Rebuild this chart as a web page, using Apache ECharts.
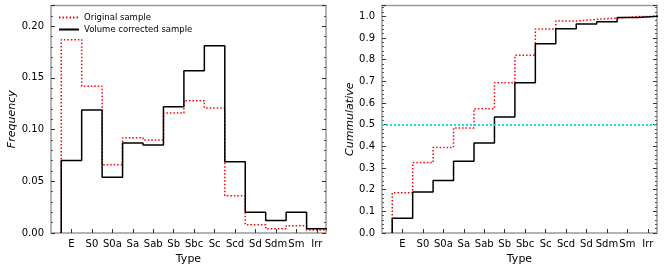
<!DOCTYPE html>
<html><head><meta charset="utf-8">
<script src="https://cdn.jsdelivr.net/npm/echarts@6/dist/echarts.min.js"></script>
<style>html,body{margin:0;padding:0;background:#fff}#c{width:664px;height:271px}</style>
</head><body><div id="c"></div>
<script>
const categories = ['E','S0','S0a','Sa','Sab','Sb','Sbc','Sc','Scd','Sd','Sdm','Sm','Irr'];
const freqOriginal = [0.187,0.142,0.066,0.092,0.090,0.116,0.128,0.121,0.036,0.008,0.004,0.007,0.003];
const freqCorrected = [0.070,0.119,0.054,0.087,0.085,0.122,0.157,0.181,0.069,0.020,0.012,0.020,0.004];
const cumOriginal = [0.186,0.325,0.395,0.485,0.574,0.694,0.820,0.942,0.978,0.986,0.992,0.999,1.0];
const cumCorrected = [0.068,0.189,0.242,0.331,0.415,0.535,0.694,0.874,0.943,0.965,0.975,0.995,1.0];
const freqTicks = [0, 0.05, 0.10, 0.15, 0.20];
const cumTicks = [0,0.1,0.2,0.3,0.4,0.5,0.6,0.7,0.8,0.9,1.0];
const medianLevel = 0.5;

const FONT = 'DejaVu Sans';
const catIdx = categories.map((c,i)=>i);
function stepData(vals){
  const d = [[-0.5, 0]];
  vals.forEach((v,i)=>d.push([i+0.5, v]));
  return d;
}
function xAxisFor(gi){
  return {
    type:'value', gridIndex:gi, min:-1, max:12.45, interval:1,
    name:'Type', nameLocation:'middle', nameGap:19,
    nameTextStyle:{fontFamily:FONT,fontSize:11,color:'#000'},
    axisLine:{show:false, onZero:false},
    axisTick:{show:true, inside:true, length:4, lineStyle:{color:'#333',width:1}, customValues:catIdx},
    axisLabel:{fontFamily:FONT,fontSize:10,color:'#000',margin:6, customValues:catIdx,
      formatter:v=>{const i=Math.round(v); return (Math.abs(v-i)<1e-6 && categories[i]!==undefined)?categories[i]:'';}},
    splitLine:{show:false}
  };
}
function yAxisFor(gi, max, interval, name, fmt, pos, showLabel, gap){
  return {
    type:'value', gridIndex:gi, min:0, max:max, interval:interval, position:pos,
    name: showLabel?name:'', nameLocation:'middle', nameGap: gap,
    nameTextStyle:{fontFamily:FONT,fontSize:11,fontStyle:'italic',color:'#000'},
    axisLine:{show:false, onZero:false},
    axisTick:{show:true, inside:true, length:4, lineStyle:{color:'#333',width:1}},
    minorTick:{show:true, splitNumber:5, length:2, lineStyle:{color:'#555',width:1}},
    axisLabel:{show:showLabel, fontFamily:FONT,fontSize:10,color:'#000',margin:7,
      formatter:v=>{ if(Math.abs(v/interval-Math.round(v/interval))>1e-6) return ''; return v.toFixed(fmt);} },
    splitLine:{show:false}
  };
}
const chart = echarts.init(document.getElementById('c'), null, {renderer:'canvas'});
chart.setOption({
  animation:false,
  backgroundColor:'#fff',
  grid:[
    {left:51, right:338, top:5.5, bottom:38, show:true, borderColor:'#9a9a9a', borderWidth:1.5, backgroundColor:'transparent'},
    {left:382, right:7, top:5.5, bottom:38, show:true, borderColor:'#9a9a9a', borderWidth:1.5, backgroundColor:'transparent'}
  ],
  legend:{
    left:53, top:8, orient:'vertical', itemGap:3, itemWidth:20, itemHeight:10,
    itemStyle:{opacity:0},
    textStyle:{fontFamily:FONT,fontSize:8.5,color:'#000'},
    data:['Original sample','Volume corrected sample']
  },
  xAxis:[xAxisFor(0), xAxisFor(1)],
  yAxis:[
    yAxisFor(0, 0.22, 0.05, 'Frequency', 2, 'left', true, 33),
    yAxisFor(0, 0.22, 0.05, '', 2, 'right', false, 0),
    yAxisFor(1, 1.05, 0.1, 'Cummulative', 1, 'left', true, 26),
    yAxisFor(1, 1.05, 0.1, '', 1, 'right', false, 0)
  ],
  series:[
    {name:'Original sample', type:'line', xAxisIndex:0, yAxisIndex:0, step:'start', symbol:'none', showSymbol:false,
     data:stepData(freqOriginal), lineStyle:{color:'#ff0000', width:1.5, type:[1.5,2]}, itemStyle:{color:'#ff0000'}, z:2},
    {name:'Volume corrected sample', type:'line', xAxisIndex:0, yAxisIndex:0, step:'start', symbol:'none', showSymbol:false,
     data:stepData(freqCorrected), lineStyle:{color:'#000', width:1.5}, itemStyle:{color:'#000'}, z:3},
    {name:'Original sample', type:'line', xAxisIndex:1, yAxisIndex:2, step:'start', symbol:'none', showSymbol:false,
     data:stepData(cumOriginal), lineStyle:{color:'#ff0000', width:1.5, type:[1.5,2]}, itemStyle:{color:'#ff0000'}, z:2},
    {name:'Volume corrected sample', type:'line', xAxisIndex:1, yAxisIndex:2, step:'start', symbol:'none', showSymbol:false,
     data:stepData(cumCorrected), lineStyle:{color:'#000', width:1.5}, itemStyle:{color:'#000'}, z:3,
     markLine:{silent:true, symbol:'none', label:{show:false},
       lineStyle:{color:'#22d8e6', width:2, type:[2,2]}, data:[{yAxis:medianLevel}]}}
  ]
});
</script></body></html>
